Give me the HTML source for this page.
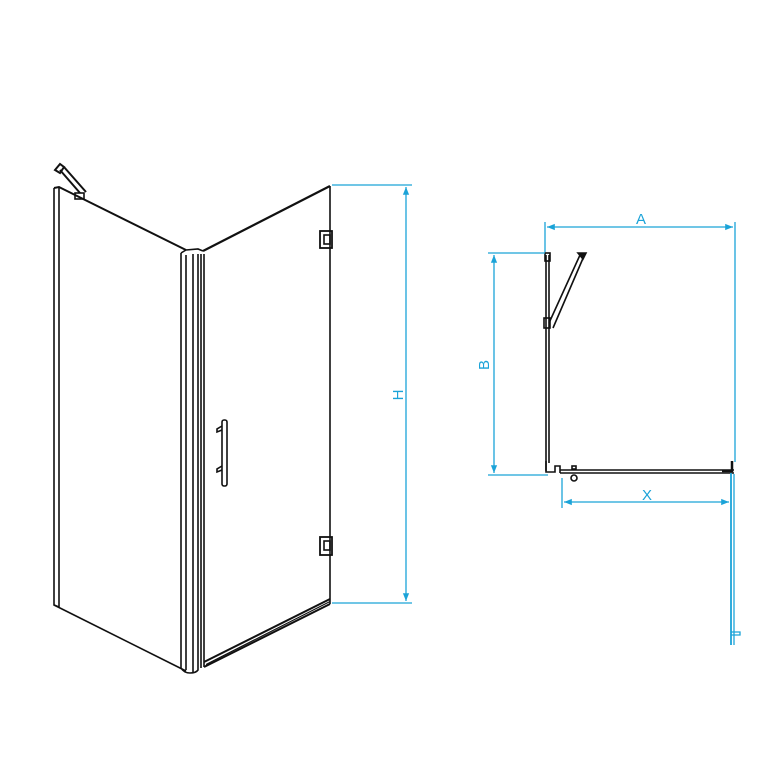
<!DOCTYPE html>
<html><head><style>
html,body{margin:0;padding:0;background:#fff;width:764px;height:762px;overflow:hidden}
svg{display:block}
text{font-family:"Liberation Sans",sans-serif;fill:#1ba3d8;font-size:15px}
</style></head><body>
<svg width="764" height="762" viewBox="0 0 764 762" xmlns="http://www.w3.org/2000/svg">
<defs>
<marker id="ar" viewBox="0 0 10 10" refX="10" refY="5" markerWidth="8" markerHeight="6" orient="auto-start-reverse">
<path d="M0,1 L10,5 L0,9 z" fill="#1ba3d8"/></marker>
</defs>
<g fill="none" stroke="#111" stroke-width="1.6">
<!-- left panel -->
<path d="M54,188 L59,187 L186,250" stroke-width="2"/>
<path d="M54,188 L54,605 L59,607"/>
<path d="M59,187 L59,607"/>
<path d="M54,605 L186,671"/>
<!-- bracket -->
<path d="M55,170 L60,164 L64,167 L60,173 Z" stroke-width="2"/>
<path d="M60,170 L80,193 M64,167 L86,192" stroke-width="2"/>
<rect x="75" y="193" width="9" height="6"/>
<!-- corner post -->
<path d="M181,253 L181,668 Q184,673 190,673 Q196,673 198,670 L198,254"/>
<path d="M186,255 L186,670 M193,254 L193,672"/>
<path d="M181,253 L186,250 L198,249 L203,251"/>
<path d="M201,254 L201,668 M204,254 L204,667"/>
<!-- door -->
<path d="M203,251 L330,186" stroke-width="2.2"/>
<path d="M330,186 L330,604"/>
<path d="M204,662 L330,599 M204,667 L330,604" stroke-width="2"/>
<path d="M206,664.5 L330,601.5" stroke-width="1.2"/>
<!-- hinges -->
<rect x="320" y="231" width="12" height="17" stroke-width="1.8"/>
<rect x="324" y="235" width="6" height="9"/>
<rect x="320" y="537" width="12" height="18" stroke-width="1.8"/>
<rect x="324" y="541" width="6" height="9"/>
<!-- handle -->
<rect x="222" y="420" width="5" height="66" rx="2"/>
<path d="M222,426 L217,429 L217,432 L222,430 M222,466 L217,469 L217,472 L222,470"/>
<!-- plan view -->
<path d="M546,255 L546,471 M549,255 L549,463"/>
<rect x="545" y="253" width="5" height="8"/>
<path d="M549,323 L580,255 M553,328 L584,256"/>
<path d="M578,253 L586,253 L583,259 Z" fill="#111"/>
<rect x="544" y="318" width="6" height="10"/>
<path d="M546,461 L546,472 L555,472 L555,466 L560,466 L560,473"/>
<path d="M560,470 L734,470 M560,473 L734,473" />
<circle cx="574" cy="478" r="3"/>
<rect x="572" y="466" width="4" height="3"/>
<path d="M732,461 L732,471 L722,471" stroke-width="2.5"/>
</g>
<g fill="none" stroke="#1ba3d8" stroke-width="1.3">
<path d="M332,185 L412,185 M332,603 L412,603"/>
<path d="M406,187 L406,601" marker-start="url(#ar)" marker-end="url(#ar)"/>
<path d="M545,222 L545,252 M735,222 L735,462"/>
<path d="M547,227 L733,227" marker-start="url(#ar)" marker-end="url(#ar)"/>
<path d="M488,253 L545,253 M488,475 L548,475"/>
<path d="M494,255 L494,473" marker-start="url(#ar)" marker-end="url(#ar)"/>
<path d="M562,478 L562,508"/>
<path d="M564,502 L729,502" marker-start="url(#ar)" marker-end="url(#ar)"/>
<path d="M731,473 L731,645" stroke-width="1.8"/>
<path d="M734,474 L734,645"/>
<path d="M731,632 L740,632 L740,635 L731,635"/>
</g>
<text x="398" y="395" transform="rotate(-90 398 395)" text-anchor="middle" dy="5">H</text>
<text x="641" y="224" text-anchor="middle">A</text>
<text x="484" y="365" transform="rotate(-90 484 365)" text-anchor="middle" dy="5">B</text>
<text x="647" y="500" text-anchor="middle">X</text>
</svg>
</body></html>
